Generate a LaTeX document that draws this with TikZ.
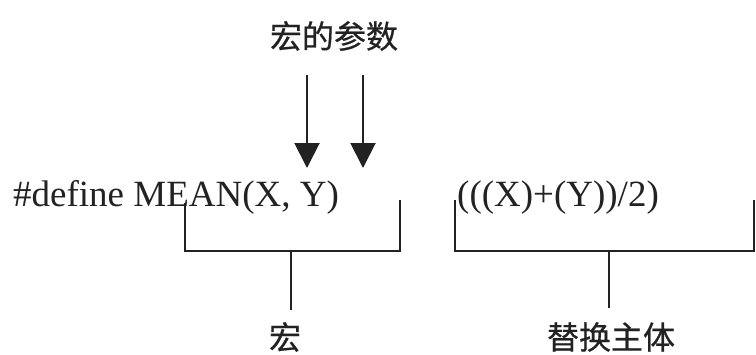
\documentclass[tikz,border=0pt]{standalone}
\usepackage{fontspec}
\setmainfont{Liberation Serif}
\newfontfamily\cjk{Noto Sans CJK SC}[FakeBold=0.6]
\usetikzlibrary{arrows.meta}
\definecolor{ink}{HTML}{222222}
\begin{document}
\begin{tikzpicture}[x=1pt,y=-1pt,
  code/.style={inner sep=0pt,font=\fontsize{37}{40}\selectfont,text=ink},
  label/.style={inner sep=0pt,font=\cjk\fontsize{32}{36}\selectfont,text=ink},
  brk/.style={draw=ink,line width=2pt},
  parrow/.style={draw=ink,line width=2pt,-{Triangle[width=25pt,length=25pt]}}]
\useasboundingbox (0,0) rectangle (756,354);
\node[label] (title) at (334,36) {宏的参数};
\node[code,anchor=base west] (macro) at (13,206) {\#define MEAN(X, Y)};
\node[code,anchor=base west] (body) at (457,206) {(((X)+(Y))/2)};
\node[label] (lmacro) at (285,337) {宏};
\node[label] (lbody) at (611,337) {替换主体};
% arrows
\coordinate (a1s) at (307,75);
\coordinate (a1e) at (307,168);
\coordinate (a2s) at (363,75);
\coordinate (a2e) at (363,168);
\draw[parrow] (a1s) -- (a1e);
\draw[parrow] (a2s) -- (a2e);
% left bracket
\coordinate (l1) at (185,203);
\coordinate (l2) at (400,200);
\coordinate (lm) at (291,251);
\coordinate (lt) at (291,310);
\draw[brk] (l1) |- (lm) -| (l2);
\draw[brk] (lm) -- (lt);
% right bracket
\coordinate (r1) at (455,200);
\coordinate (r2) at (754,200);
\coordinate (rm) at (609,251);
\coordinate (rt) at (609,308);
\draw[brk] (r1) |- (rm) -| (r2);
\draw[brk] (rm) -- (rt);
\end{tikzpicture}
\end{document}
